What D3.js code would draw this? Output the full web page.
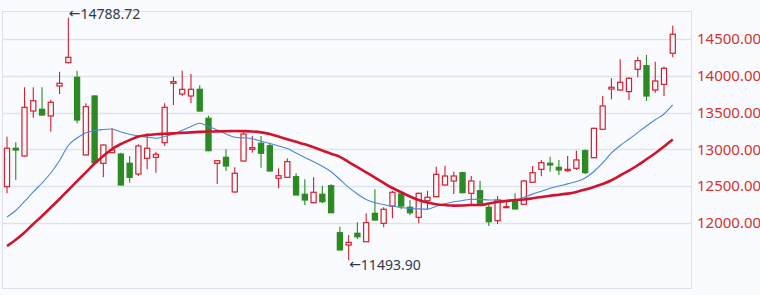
<!DOCTYPE html>
<html>
<head>
<meta charset="utf-8">
<script src="https://cdn.jsdelivr.net/npm/d3@7"></script>
<style>
  html, body { margin: 0; padding: 0; background: #f9fbfe; }
  svg { display: block; }
</style>
</head>
<body>
<svg id="chart" width="760" height="295"></svg>
<script>
const categories = d3.range(1, 78).map(i => "D" + i);
const open = [12493,13015,12910,13521,13545,13454,13861,14178,13980,12924,
  13725,12811,12955,12937,12811,12665,12879,12892,13091,13898,
  13752,13725,13816,13422,12811,12892,12421,12842,13001,13083,
  13050,12607,12620,12629,12390,12275,12390,12506,11868,11700,
  11860,11745,12131,11995,12230,12394,12213,12077,12302,12357,
  12516,12570,12683,12403,12438,12213,12031,12213,12298,12254,
  12553,12729,12811,12756,12710,12743,12982,12887,13273,13820,
  13807,13784,14088,14137,13807,13884,14306];
const close = [13015,12991,13572,13661,13467,13640,13898,14251,13399,13580,
  12819,13059,12991,12516,12620,13046,13015,12933,13572,13920,
  13816,13816,13521,12982,12846,12774,12675,13209,13023,12947,
  12706,12642,12833,12380,12312,12417,12289,12139,11633,11737,
  11813,12004,12040,12186,12417,12230,12139,12403,12349,12661,
  12638,12638,12411,12570,12267,12017,12312,12221,12190,12570,
  12683,12819,12788,12720,12729,12856,12683,13286,13590,13844,
  13912,13966,14205,13725,13929,14102,14564];
const high = [13172,13096,13844,13844,13844,13671,14056,14788.72,14069,13626,
  13735,13065,13286,12955,12910,13069,13218,12968,13626,13988,
  14069,14024,13871,13458,12852,13001,12756,13232,13182,13182,
  13091,12743,12879,12675,12593,12620,12506,12525,11949,11836,
  12009,12131,12457,12213,12438,12400,12312,12411,12438,12765,
  12778,12697,12697,12638,12574,12267,12366,12298,12403,12584,
  12774,12856,12900,12856,12910,12982,13001,13292,13725,13966,
  14224,13980,14259,14283,14192,14124,14681];
const low = [12403,12584,12900,13430,13460,13240,13752,14170,13354,12915,
  12810,12620,12947,12510,12547,12638,12729,12683,13046,13603,
  13725,13626,13515,12975,12529,12706,12415,12836,12955,12751,
  12700,12471,12615,12375,12244,12267,12267,12135,11628,11493.90,
  11782,11740,12035,11941,12063,12186,12108,11995,12176,12350,
  12510,12394,12405,12244,12262,11959,11986,12207,12185,12248,
  12548,12638,12697,12652,12697,12720,12665,12880,13268,13680,
  13800,13671,13980,13657,13770,13725,14251];
const maShort = [12081,12169,12292,12421,12543,12679,12849,13053,13155,13225,
  13257,13270,13276,13236,13206,13182,13166,13152,13175,13209,
  13259,13311,13354,13311,13263,13209,13164,13156,13144,13111,
  13080,13046,13011,12951,12891,12831,12771,12695,12591,12483,
  12394,12320,12274,12250,12226,12211,12197,12191,12188,12228,
  12260,12288,12305,12323,12320,12313,12311,12308,12305,12349,
  12392,12430,12471,12502,12531,12562,12611,12699,12815,12951,
  13053,13137,13228,13318,13403,13481,13603];
const maLong = [11687,11772,11870,11986,12095,12210,12326,12448,12569,12687,
  12807,12910,13005,13073,13127,13175,13195,13206,13212,13217,
  13224,13231,13237,13242,13244,13247,13250,13248,13243,13231,
  13209,13174,13138,13103,13068,13028,12985,12940,12898,12828,
  12759,12688,12616,12544,12475,12417,12360,12312,12279,12255,
  12243,12236,12237,12244,12244,12264,12285,12298,12312,12319,
  12335,12353,12370,12384,12399,12422,12453,12489,12529,12580,
  12645,12712,12784,12865,12947,13039,13134];
const yTicks = [12000, 12500, 13000, 13500, 14000, 14500];

const UP = "#d41f2c", DOWN = "#2b8a22", BG = "#f9fbfe";
const svg = d3.select("#chart");
const plot = {left: 2, top: 11, right: 691, bottom: 288};

const x = d3.scaleBand().domain(categories).range([2.62, 677.14])
  .paddingInner(0.3).paddingOuter(0.15);
const cx = d => x(d) + x.bandwidth() / 2;
const y = d3.scaleLinear().domain([11100, 14880]).range([289.2, 11]);

// frame
svg.append("rect").attr("x", plot.left + 0.5).attr("y", plot.top + 0.5)
  .attr("width", plot.right - plot.left).attr("height", plot.bottom - plot.top)
  .attr("fill", BG).attr("stroke", "#dbe2ee").attr("stroke-width", 1);

// grid
svg.append("g").selectAll("line").data(yTicks).join("line")
  .attr("x1", plot.left).attr("x2", plot.right)
  .attr("y1", d => Math.round(y(d)) + 0.5).attr("y2", d => Math.round(y(d)) + 0.5)
  .attr("stroke", "#dde3ef").attr("stroke-width", 1.3);

// y axis labels
const yAxis = d3.axisRight(y).tickValues(yTicks).tickFormat(d3.format(".2f")).tickSize(0).tickPadding(0);
const ga = svg.append("g").attr("transform", `translate(697,0)`).call(yAxis);
ga.select(".domain").remove();
ga.selectAll("text").attr("fill", "#d3342f").attr("font-size", 15)
  .attr("font-family", "Noto Sans, Open Sans, sans-serif");

const data = categories.map((c, i) => ({c, o: open[i], cl: close[i], h: high[i], l: low[i]}));

// candles
const g = svg.append("g");
g.selectAll("line.wick").data(data).join("line").attr("class", "wick")
  .attr("x1", d => cx(d.c)).attr("x2", d => cx(d.c))
  .attr("y1", d => y(d.h)).attr("y2", d => y(d.l))
  .attr("stroke", d => d.cl >= d.o ? UP : DOWN).attr("stroke-width", 1.1);
g.selectAll("rect.body").data(data).join("rect").attr("class", "body")
  .attr("x", d => x(d.c) + 0.5).attr("width", x.bandwidth() - 1)
  .attr("y", d => y(Math.max(d.o, d.cl)))
  .attr("height", d => Math.max(1, Math.abs(y(d.o) - y(d.cl))))
  .attr("fill", d => d.cl >= d.o ? BG : DOWN)
  .attr("stroke", d => d.cl >= d.o ? UP : DOWN).attr("stroke-width", 1.2);

// MA lines
const line = arr => d3.line().x((v, i) => cx(categories[i])).y(v => y(v)).curve(d3.curveMonotoneX)(arr);
svg.append("path").attr("d", line(maShort)).attr("fill", "none")
  .attr("stroke", "#4a86d6").attr("stroke-width", 1.1);
svg.append("path").attr("d", line(maLong)).attr("fill", "none")
  .attr("stroke", "#d0142c").attr("stroke-width", 2.6);

// annotations
const iMax = d3.maxIndex(high), iMin = d3.minIndex(low);
const ann = svg.append("g").attr("font-family", "Noto Sans, Open Sans, sans-serif")
  .attr("font-size", 14).attr("fill", "#2f3a48");
function addLabel(i, v, dy) {
  const t = ann.append("text").attr("x", cx(categories[i]) + 0.5).attr("y", y(v) + dy)
    .attr("dominant-baseline", "central");
  t.append("tspan").attr("font-family", "DejaVu Sans, sans-serif").text("←");
  t.append("tspan").text(v.toFixed(2));
}
addLabel(iMax, high[iMax], -5);
addLabel(iMin, low[iMin], 4);
</script>
</body>
</html>
